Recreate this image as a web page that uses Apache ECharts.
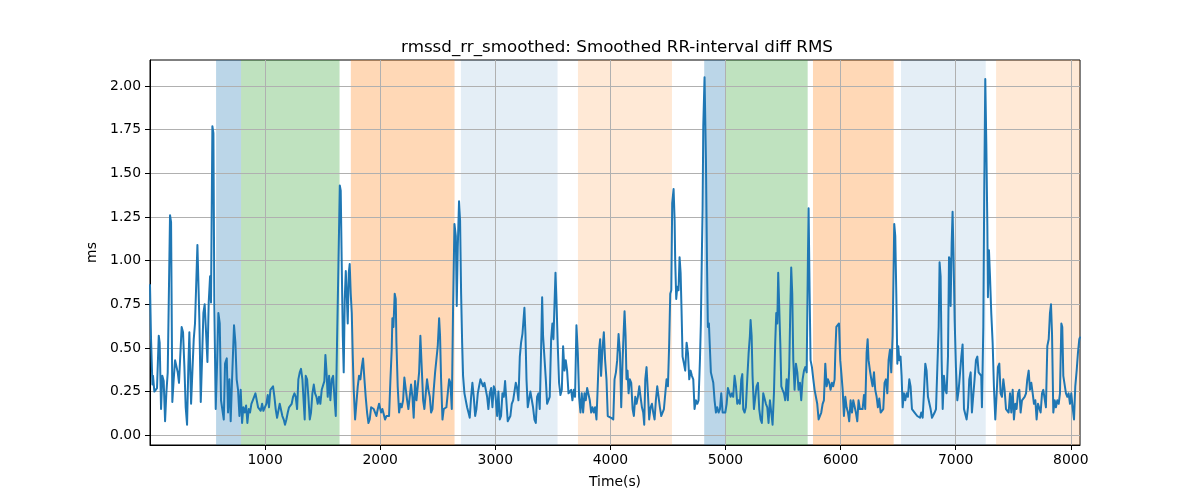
<!DOCTYPE html>
<html>
<head>
<meta charset="utf-8">
<script src="https://cdn.jsdelivr.net/npm/echarts@6/dist/echarts.min.js"></script>
<style>html,body{margin:0;padding:0;background:#fff;}#chart{width:1200px;height:500px;}</style>
</head>
<body>
<div id="chart"></div>
<script>
const titleText = 'rmssd_rr_smoothed: Smoothed RR-interval diff RMS';
const xName = 'Time(s)';
const yName = 'ms';
const xTicks = [1000, 2000, 3000, 4000, 5000, 6000, 7000, 8000];
const yTicks = [0, 0.25, 0.5, 0.75, 1.0, 1.25, 1.5, 1.75, 2.0];

// shaded phases [start, end] in seconds
const spanStarts = [574, 791, 1745, 2701, 3718, 4815, 4998, 5760, 6525, 7351];
const spanEnds   = [791, 1647, 2646, 3541, 4535, 4998, 5714, 6461, 7261, 8080];
const spanKinds  = ['blue', 'green', 'orange', 'lightblue', 'lightorange', 'blue', 'green', 'orange', 'lightblue', 'lightorange'];

// [time, rmssd] samples
const rmssd = [
[0,0.86],[9,0.55],[21,0.29],[26,0.34],[38,0.25],[50,0.24],[61,0.27],[76,0.57],[84,0.53],[96,0.15],
[107,0.34],[119,0.31],[131,0.08],[142,0.24],[154,0.36],[165,0.36],[174,1.26],[183,1.22],[194,0.19],[206,0.32],
[218,0.43],[229,0.42],[241,0.36],[252,0.30],[264,0.47],[275,0.62],[287,0.59],[299,0.39],[310,0.16],[322,0.06],
[333,0.39],[342,0.59],[357,0.18],[368,0.36],[380,0.55],[391,0.64],[403,0.65],[412,1.09],[420,1.08],[429,0.66],
[441,0.19],[452,0.43],[464,0.70],[475,0.75],[487,0.59],[499,0.42],[510,0.76],[522,0.91],[530,0.76],[542,1.77],
[551,1.73],[559,0.74],[571,0.15],[583,0.41],[594,0.70],[606,0.64],[617,0.20],[629,0.20],[641,0.09],[652,0.41],
[667,0.44],[678,0.13],[690,0.32],[701,0.08],[713,0.32],[730,0.63],[742,0.53],[753,0.32],[765,0.26],[777,0.11],
[788,0.26],[800,0.07],[811,0.16],[823,0.13],[835,0.17],[846,0.07],[858,0.15],[869,0.13],[881,0.18],[893,0.20],
[904,0.19],[916,0.24],[927,0.25],[939,0.16],[950,0.17],[962,0.14],[974,0.18],[985,0.14],
[1000,0.15],[1011,0.18],[1023,0.23],[1034,0.16],[1046,0.26],[1058,0.27],[1069,0.28],[1081,0.22],[1092,0.15],[1104,0.10],
[1115,0.11],[1127,0.18],[1139,0.18],[1150,0.11],[1162,0.09],[1173,0.06],[1185,0.09],[1197,0.13],[1208,0.16],[1220,0.15],
[1231,0.18],[1243,0.22],[1255,0.24],[1266,0.22],[1278,0.15],[1289,0.32],[1301,0.36],[1312,0.38],[1324,0.32],[1336,0.18],
[1344,0.09],[1353,0.34],[1365,0.32],[1376,0.22],[1388,0.09],[1399,0.13],[1411,0.24],[1423,0.29],[1434,0.24],[1446,0.22],
[1457,0.18],[1469,0.22],[1480,0.18],[1492,0.26],[1504,0.26],[1515,0.31],[1524,0.46],[1533,0.37],[1544,0.22],[1556,0.34],
[1567,0.20],[1579,0.32],[1591,0.34],[1602,0.22],[1614,0.11],[1625,0.53],[1637,0.97],[1649,1.43],[1657,1.40],[1666,0.97],
[1675,0.57],[1683,0.36],[1692,0.78],[1701,0.94],[1709,0.81],[1718,0.64],[1727,0.93],[1735,0.98],[1744,0.81],[1753,0.70],
[1761,0.47],[1770,0.26],[1782,0.09],[1793,0.18],[1805,0.28],[1816,0.34],[1828,0.32],[1840,0.39],[1851,0.44],[1863,0.32],
[1874,0.22],[1886,0.13],[1898,0.07],[1909,0.09],[1921,0.16],[1932,0.17],[1944,0.15],[1956,0.16],[1967,0.11],[1979,0.15],
[1990,0.18],
[2008,0.13],[2019,0.15],[2031,0.12],[2042,0.09],[2054,0.11],[2066,0.10],[2077,0.11],[2089,0.32],[2100,0.49],[2106,0.67],
[2115,0.62],[2126,0.81],[2135,0.78],[2141,0.53],[2152,0.28],[2164,0.13],[2176,0.18],[2187,0.16],[2199,0.20],[2210,0.33],
[2222,0.32],[2234,0.20],[2245,0.15],[2257,0.16],[2268,0.29],[2280,0.22],[2291,0.10],[2303,0.31],[2315,0.20],[2326,0.20],
[2338,0.36],[2349,0.57],[2361,0.57],[2373,0.20],[2384,0.15],[2396,0.24],[2407,0.32],[2419,0.26],[2431,0.22],[2442,0.13],
[2454,0.15],[2465,0.26],[2477,0.36],[2488,0.35],[2500,0.51],[2512,0.67],[2520,0.57],[2529,0.32],[2541,0.09],[2552,0.15],
[2564,0.16],[2575,0.16],[2587,0.24],[2599,0.32],[2610,0.30],[2622,0.15],[2633,0.72],[2645,1.21],[2657,1.14],[2665,0.74],
[2674,1.08],[2685,1.34],[2694,1.23],[2703,0.81],[2712,0.53],[2720,0.34],[2732,0.24],[2743,0.24],[2755,0.16],[2767,0.13],
[2778,0.10],[2790,0.22],[2801,0.30],[2813,0.22],[2825,0.11],[2836,0.15],[2848,0.24],[2859,0.28],[2871,0.32],[2882,0.33],
[2894,0.28],[2906,0.30],[2917,0.29],[2929,0.22],[2940,0.15],[2952,0.24],[2964,0.27],[2975,0.16],[2987,0.28],[2998,0.26],
[3016,0.11],[3027,0.25],[3039,0.09],[3050,0.11],[3062,0.24],[3074,0.22],[3085,0.31],[3097,0.30],[3108,0.08],[3120,0.09],
[3131,0.11],[3143,0.18],[3155,0.20],[3166,0.20],[3178,0.30],[3189,0.27],[3201,0.20],[3213,0.45],[3224,0.53],[3236,0.58],
[3253,0.73],[3262,0.58],[3271,0.32],[3282,0.16],[3294,0.16],[3305,0.25],[3317,0.25],[3328,0.16],[3340,0.09],[3352,0.07],
[3363,0.22],[3375,0.24],[3386,0.15],[3398,0.49],[3407,0.79],[3415,0.57],[3427,0.57],[3439,0.32],[3450,0.18],[3462,0.18],
[3473,0.22],[3485,0.55],[3496,0.64],[3505,0.55],[3514,0.74],[3523,0.93],[3531,0.78],[3543,0.51],[3554,0.30],[3566,0.23],
[3578,0.26],[3589,0.51],[3601,0.37],[3612,0.43],[3624,0.37],[3636,0.24],[3647,0.24],[3659,0.26],[3670,0.20],[3682,0.26],
[3693,0.22],[3705,0.63],[3717,0.47],[3728,0.22],[3740,0.13],[3751,0.24],[3763,0.13],[3775,0.24],[3786,0.20],[3798,0.27],
[3809,0.27],[3821,0.20],[3833,0.13],[3844,0.16],[3856,0.13],[3867,0.16],[3879,0.09],[3890,0.28],[3902,0.49],[3911,0.55],
[3919,0.34],[3931,0.49],[3943,0.59],[3954,0.43],[3966,0.32],[3977,0.11],[3989,0.11],[4006,0.10],
[4025,0.09],[4036,0.32],[4048,0.36],[4059,0.43],[4071,0.58],[4083,0.47],[4094,0.16],[4106,0.43],[4117,0.62],[4123,0.71],
[4132,0.57],[4140,0.32],[4149,0.37],[4158,0.24],[4169,0.32],[4181,0.30],[4193,0.15],[4204,0.11],[4216,0.22],[4227,0.18],
[4239,0.22],[4251,0.28],[4262,0.22],[4274,0.16],[4285,0.13],[4294,0.06],[4303,0.32],[4314,0.39],[4326,0.24],[4337,0.09],
[4349,0.16],[4361,0.18],[4372,0.13],[4384,0.09],[4395,0.20],[4407,0.28],[4419,0.29],[4430,0.16],[4442,0.11],[4453,0.11],
[4465,0.15],[4477,0.24],[4488,0.32],[4500,0.28],[4511,0.53],[4520,0.81],[4529,0.83],[4537,1.33],[4549,1.41],[4558,1.23],
[4563,1.00],[4572,0.78],[4581,0.85],[4592,0.83],[4601,1.02],[4610,0.93],[4618,0.72],[4627,0.45],[4639,0.41],[4650,0.37],
[4662,0.53],[4674,0.47],[4685,0.32],[4697,0.37],[4708,0.34],[4720,0.32],[4731,0.15],[4743,0.20],[4755,0.18],[4766,0.20],
[4778,0.43],[4786,0.64],[4795,1.05],[4801,1.29],[4807,1.77],[4818,2.05],[4830,1.58],[4839,1.00],[4847,0.62],[4856,0.64],
[4865,0.49],[4873,0.36],[4882,0.36],[4894,0.30],[4905,0.20],[4917,0.13],[4928,0.16],[4940,0.13],[4952,0.15],[4963,0.24],
[4975,0.13],[4986,0.12],[4998,0.13],[5010,0.18],[5021,0.27],
[5044,0.22],[5056,0.24],[5067,0.22],[5079,0.34],[5091,0.28],[5102,0.18],[5114,0.20],[5125,0.18],[5137,0.32],[5146,0.35],
[5154,0.15],[5166,0.13],[5177,0.16],[5189,0.32],[5201,0.47],[5212,0.57],[5218,0.66],[5227,0.57],[5235,0.34],[5247,0.15],
[5259,0.16],[5270,0.28],[5282,0.30],[5293,0.15],[5305,0.09],[5316,0.07],[5328,0.24],[5340,0.25],[5351,0.18],[5363,0.16],
[5374,0.07],[5386,0.20],[5398,0.13],[5409,0.06],[5421,0.24],[5432,0.53],[5441,0.70],[5450,0.64],[5458,0.93],[5467,0.93],
[5476,0.53],[5485,0.28],[5496,0.26],[5508,0.24],[5519,0.20],[5531,0.32],[5542,0.20],[5554,0.39],[5563,0.72],[5571,0.96],
[5580,0.81],[5589,0.43],[5600,0.26],[5612,0.41],[5624,0.36],[5635,0.26],[5647,0.30],[5658,0.20],[5670,0.32],[5682,0.37],
[5693,0.39],[5705,0.36],[5716,1.00],[5722,1.30],[5731,0.81],[5739,0.43],[5751,0.39],[5763,0.32],[5774,0.26],[5786,0.26],
[5797,0.18],[5809,0.09],[5821,0.09],[5832,0.13],[5844,0.18],[5855,0.20],[5867,0.41],[5879,0.28],[5890,0.32],[5902,0.30],
[5913,0.26],[5925,0.30],[5936,0.28],[5948,0.32],[5954,0.47],[5963,0.62],[5974,0.63],[5986,0.64],[5997,0.43],[6006,0.36],
[6018,0.26],[6029,0.11],[6041,0.22],[6052,0.16],
[6064,0.13],[6075,0.08],[6087,0.20],[6099,0.13],[6110,0.20],[6122,0.21],[6133,0.13],[6145,0.08],[6156,0.20],[6168,0.15],
[6180,0.16],[6191,0.15],[6203,0.23],[6214,0.15],[6226,0.47],[6235,0.55],[6243,0.43],[6255,0.37],[6267,0.32],[6278,0.28],
[6290,0.36],[6301,0.26],[6313,0.22],[6324,0.16],[6336,0.21],[6348,0.13],[6359,0.13],[6371,0.15],[6382,0.30],[6394,0.32],
[6406,0.24],[6417,0.43],[6429,0.49],[6440,0.36],[6452,0.57],[6461,0.97],[6466,1.21],[6475,1.14],[6484,0.81],[6493,0.41],
[6501,0.51],[6510,0.43],[6521,0.45],[6530,0.34],[6539,0.16],[6550,0.24],[6562,0.20],[6574,0.24],[6585,0.22],[6597,0.32],
[6608,0.28],[6620,0.15],[6632,0.15],[6643,0.13],[6655,0.13],[6666,0.11],[6678,0.12],[6690,0.10],[6701,0.13],[6713,0.10],
[6724,0.24],[6736,0.41],[6747,0.37],[6759,0.22],[6771,0.22],[6782,0.15],[6794,0.10],[6805,0.09],[6817,0.13],[6829,0.15],
[6840,0.15],[6852,0.62],[6860,0.99],[6869,0.91],[6878,0.43],[6887,0.15],[6898,0.34],[6910,0.26],[6921,0.24],[6933,0.45],
[6942,1.02],[6950,1.00],[6956,0.74],[6965,1.10],[6973,1.28],[6982,1.00],[6991,0.66],[7002,0.39],[7014,0.20],[7026,0.26],
[7037,0.26],[7049,0.45],
[7060,0.52],[7072,0.15],[7083,0.14],[7095,0.09],[7107,0.16],[7118,0.32],[7130,0.36],[7141,0.13],[7153,0.13],[7164,0.32],
[7176,0.43],[7188,0.45],[7199,0.36],[7211,0.36],[7222,0.34],[7228,0.16],[7240,0.62],[7248,1.39],[7257,2.04],[7266,1.67],
[7275,1.20],[7280,0.79],[7289,1.06],[7298,0.91],[7309,0.70],[7321,0.53],[7332,0.28],[7344,0.09],[7356,0.24],[7367,0.39],
[7379,0.41],[7390,0.24],[7402,0.22],[7414,0.32],[7425,0.26],[7437,0.15],[7448,0.16],[7460,0.13],[7472,0.24],[7483,0.13],
[7495,0.26],[7506,0.09],[7518,0.18],[7529,0.15],[7541,0.24],[7553,0.26],[7564,0.13],[7576,0.20],[7587,0.20],[7599,0.22],
[7611,0.24],[7622,0.32],[7634,0.37],[7645,0.26],[7657,0.30],[7669,0.24],[7680,0.18],[7692,0.20],[7703,0.09],[7715,0.18],
[7726,0.18],[7738,0.13],[7750,0.24],[7761,0.26],[7773,0.26],[7784,0.16],[7796,0.51],[7808,0.55],[7819,0.70],[7828,0.75],
[7837,0.58],[7848,0.13],[7860,0.20],[7871,0.16],[7883,0.20],[7895,0.18],[7906,0.24],[7918,0.64],[7926,0.62],[7935,0.34],
[7947,0.34],[7958,0.24],[7970,0.22],[7981,0.24],[7993,0.18],[8004,0.24],[8016,0.16],[8028,0.09],[8039,0.28],[8051,0.37],
[8062,0.47],[8074,0.55],[8080,0.56]
];

// styles (kept apart from data)
const kindColor = {
  blue: 'rgba(31,119,180,0.3)',
  green: 'rgba(44,160,44,0.3)',
  orange: 'rgba(255,127,14,0.3)',
  lightblue: 'rgba(31,119,180,0.12)',
  lightorange: 'rgba(255,127,14,0.17)'
};
const FONT = 'DejaVu Sans';
const X_MIN = 0, X_MAX = 8080, Y_MIN = -0.056, Y_MAX = 2.149;

const chart = echarts.init(document.getElementById('chart'), null, {renderer: 'canvas'});

const areas = spanStarts.map((s, i) => [
  {xAxis: s, itemStyle: {color: kindColor[spanKinds[i]]}},
  {xAxis: spanEnds[i]}
]);

const option = {
  animation: false,
  backgroundColor: '#ffffff',
  title: {
    text: titleText,
    left: 612,
    top: 34,
    textAlign: 'center',
    textStyle: {fontFamily: FONT, fontSize: 16.7, fontWeight: 'normal', color: '#000'}
  },
  grid: {left: 150, right: 120, top: 60, bottom: 55, show: true, borderColor: '#000', borderWidth: 1, backgroundColor: 'transparent'},
  xAxis: {
    type: 'value', min: X_MIN, max: X_MAX, interval: 1000, z: 2,
    name: xName, nameLocation: 'middle', nameGap: 30,
    nameTextStyle: {fontFamily: FONT, fontSize: 13.9, color: '#000'},
    axisLine: {show: true, onZero: false, lineStyle: {color: '#000', width: 1}},
    axisTick: {show: true, inside: false, length: 5, lineStyle: {color: '#000', width: 1}, customValues: xTicks},
    axisLabel: {show: true, margin: 8, fontFamily: FONT, fontSize: 13.9, color: '#000', customValues: xTicks,
      formatter: v => String(v)},
    splitLine: {show: true, lineStyle: {color: '#b0b0b0', width: 1}}
  },
  yAxis: {
    type: 'value', min: Y_MIN, max: Y_MAX, z: 2,
    name: yName, nameLocation: 'middle', nameGap: 42,
    nameTextStyle: {fontFamily: FONT, fontSize: 13.9, color: '#000'},
    axisLine: {show: true, onZero: false, lineStyle: {color: '#000', width: 1}},
    axisTick: {show: true, inside: false, length: 5, lineStyle: {color: '#000', width: 1}, customValues: yTicks},
    axisLabel: {show: true, margin: 9, fontFamily: FONT, fontSize: 13.9, color: '#000', customValues: yTicks,
      formatter: v => Number(v).toFixed(2)},
    splitLine: {show: true, lineStyle: {color: '#b0b0b0', width: 1}}
  },
  series: [{
    type: 'line',
    data: rmssd,
    showSymbol: false,
    symbol: 'none',
    sampling: 'none',
    clip: true,
    lineStyle: {color: '#1f77b4', width: 2, join: 'round', cap: 'round'},
    z: 3,
    markArea: {silent: true, z: 1, data: areas, label: {show: false}}
  }]
};
chart.setOption(option);
</script>
</body>
</html>
